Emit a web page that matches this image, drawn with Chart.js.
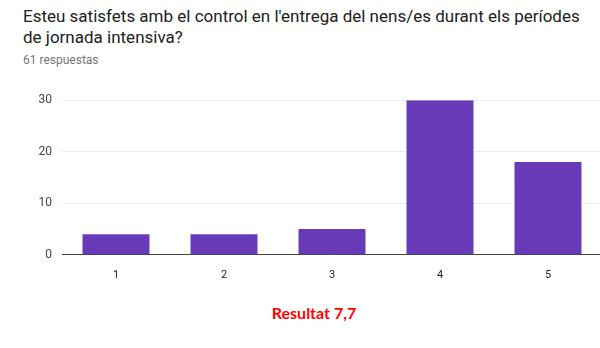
<!DOCTYPE html>
<html>
<head>
<meta charset="utf-8">
<script src="https://cdn.jsdelivr.net/npm/chart.js@4/dist/chart.umd.min.js"></script>
<style>
    html, body { margin: 0; padding: 0; background: #fff; width: 600px; height: 348px; overflow: hidden; }
    #title {
        position: absolute; left: 23px; top: 6px; white-space: nowrap;
        font-family: Roboto, sans-serif; font-size: 17px; line-height: 21px; color: #212121;
    }
    #subtitle {
        position: absolute; left: 23px; top: 53px;
        font-family: Roboto, sans-serif; font-size: 12px; color: #757575;
    }
    #chartBox { position: absolute; left: 0; top: 83px; width: 610px; height: 205px; }
    #result {
        position: absolute; left: 0; top: 303px; width: 628px; text-align: center;
        font-family: Lato, sans-serif; font-weight: bold; font-size: 16px; color: #ff0000;
    }
</style>
</head>
<body>
<div id="title">Esteu satisfets amb el control en l'entrega del nens/es durant els períodes<br>de jornada intensiva?</div>
<div id="subtitle">61 respuestas</div>
<div id="chartBox"><canvas id="chart"></canvas></div>
<div id="result">Resultat 7,7</div>

<script>
// Answers on the 1-5 scale
const categories = ['1', '2', '3', '4', '5'];
const responses = [4, 4, 5, 30, 18];
const yTicks = [0, 10, 20, 30];

const ctx = document.getElementById('chart').getContext('2d');
new Chart(ctx, {
    type: 'bar',
    data: {
        labels: categories,
        datasets: [{
            data: responses,
            backgroundColor: '#673ab7',
            borderWidth: 0,
            categoryPercentage: 1,
            barPercentage: 0.62
        }]
    },
    options: {
        responsive: true,
        maintainAspectRatio: false,
        animation: false,
        layout: { padding: { top: 0, right: 8, bottom: 0, left: 0 } },
        plugins: {
            legend: { display: false },
            tooltip: { enabled: false }
        },
        scales: {
            y: {
                min: yTicks[0],
                max: yTicks[yTicks.length - 1],
                afterBuildTicks: function(scale) {
                    scale.ticks = yTicks.map(v => ({ value: v }));
                },
                afterFit: function(scale) { scale.width = 62; },
                ticks: {
                    color: '#444',
                    padding: 10,
                    font: { family: 'Roboto', size: 12 }
                },
                grid: { color: '#ebebeb', drawTicks: false },
                border: { display: false }
            },
            x: {
                ticks: {
                    color: '#222',
                    padding: 6,
                    font: { family: 'Roboto', size: 11 }
                },
                grid: { display: false },
                border: { color: '#444', width: 1 }
            }
        }
    }
});
</script>
</body>
</html>
